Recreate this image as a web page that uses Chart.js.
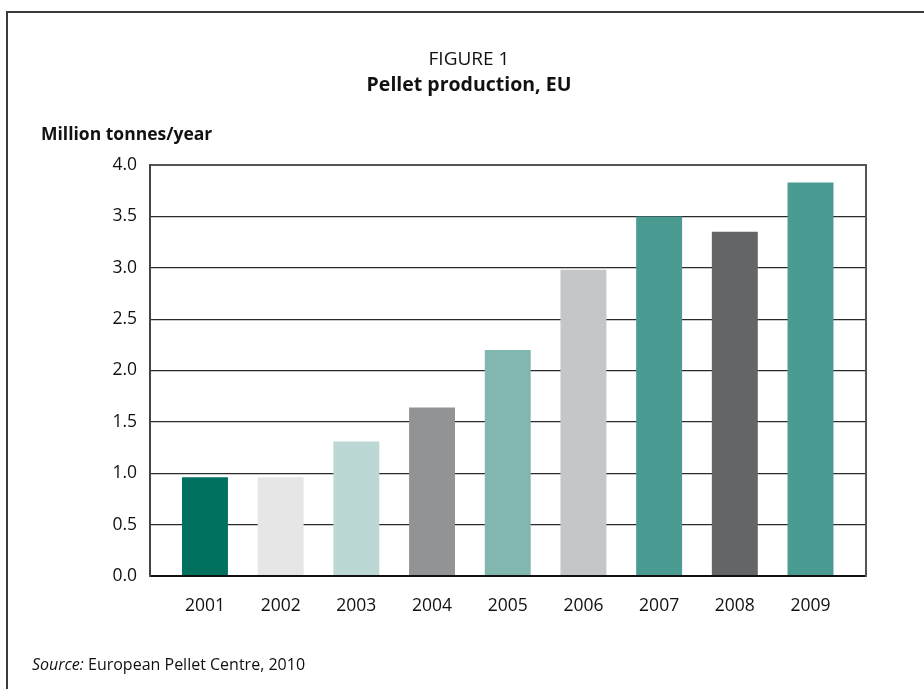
<!DOCTYPE html>
<html>
<head>
<meta charset="utf-8">
<script src="https://cdn.jsdelivr.net/npm/chart.js@4"></script>
<style>
  body { margin: 0; background: #fff; font-family: 'Open Sans', sans-serif; color: #111; }
  #wrap { position: relative; width: 924px; height: 689px; overflow: hidden; }
  #frame { position: absolute; left: 6px; top: 11px; width: 1000px; height: 800px; border-left: 2px solid #3a3a3a; border-top: 2px solid #3a3a3a; }
  canvas { position: absolute; left: 0; top: 0; }
  .txt { position: absolute; white-space: nowrap; line-height: 20px; }
  #fig { left: 0; width: 938px; text-align: center; top: 48px; font-size: 19px; }
  #ttl { left: 0; width: 938px; text-align: center; top: 74px; font-size: 19.5px; font-weight: bold; }
  #unit { left: 41px; top: 123px; font-size: 17.5px; font-weight: bold; }
  #src { left: 32px; top: 654px; font-size: 16px; }
</style>
</head>
<body>
<div id="wrap">
  <div id="frame"></div>
  <canvas id="chart" width="924" height="689"></canvas>
  <div class="txt" id="fig">FIGURE 1</div>
  <div class="txt" id="ttl">Pellet production, EU</div>
  <div class="txt" id="unit">Million tonnes/year</div>
  <div class="txt" id="src"><i>Source:</i> European Pellet Centre, 2010</div>
</div>
<script>
const years = ['2001', '2002', '2003', '2004', '2005', '2006', '2007', '2008', '2009'];
const production = [0.96, 0.96, 1.31, 1.64, 2.20, 2.98, 3.50, 3.35, 3.83];
const barColors = ['#00715f', '#e6e6e6', '#bcd8d4', '#929395', '#82b7b0', '#c5c6c8', '#4a9c93', '#646567', '#4a9c93'];
const yTicks = [0, 0.5, 1, 1.5, 2, 2.5, 3, 3.5, 4];

Chart.defaults.font.family = "'Open Sans', sans-serif";
Chart.defaults.font.size = 17;
Chart.defaults.color = '#111';

// right edge of the plot box
const rightEdge = {
    id: 'rightEdge',
    afterDraw(chart) {
        const { ctx, chartArea: a } = chart;
        ctx.save();
        ctx.strokeStyle = '#555';
        ctx.lineWidth = 2;
        ctx.beginPath();
        ctx.moveTo(a.right, a.top - 1);
        ctx.lineTo(a.right, a.bottom + 1);
        ctx.stroke();
        ctx.restore();
    }
};

new Chart(document.getElementById('chart'), {
    type: 'bar',
    data: {
        datasets: [{
            data: production.map((v, i) => ({ x: i, y: v })),
            backgroundColor: barColors,
            borderWidth: 0,
            barPercentage: 0.607,
            categoryPercentage: 1
        }]
    },
    plugins: [rightEdge],
    options: {
        responsive: false,
        animation: false,
        devicePixelRatio: 1,
        layout: { padding: { left: 0, right: 58, top: 165, bottom: 53 } },
        plugins: { legend: { display: false }, tooltip: { enabled: false } },
        scales: {
            x: {
                type: 'linear',
                offset: false,
                min: -0.726,
                max: 8.733,
                afterBuildTicks: s => { s.ticks = years.map((_, i) => ({ value: i })); },
                afterFit: s => { s.height = 60; },
                grid: { display: false },
                border: { display: true, color: '#111', width: 2 },
                ticks: {
                    autoSkip: false,
                    maxRotation: 0,
                    padding: 12,
                    font: { size: 17.5 },
                    callback: v => years[Math.round(v)]
                }
            },
            y: {
                min: 0,
                max: 4,
                afterBuildTicks: s => { s.ticks = yTicks.map(v => ({ value: v })); },
                afterFit: s => { s.width = 150; },
                border: { display: true, color: '#444', width: 2 },
                grid: {
                    drawTicks: false,
                    color: c => c.tick.value === 4 ? '#555' : (c.tick.value === 0 ? '#111' : '#2a2a2a'),
                    lineWidth: c => (c.tick.value === 4 || c.tick.value === 0) ? 2 : 1.2
                },
                ticks: {
                    padding: 13,
                    font: { size: 17.5 },
                    callback: v => v.toFixed(1)
                }
            }
        }
    }
});
</script>
</body>
</html>
